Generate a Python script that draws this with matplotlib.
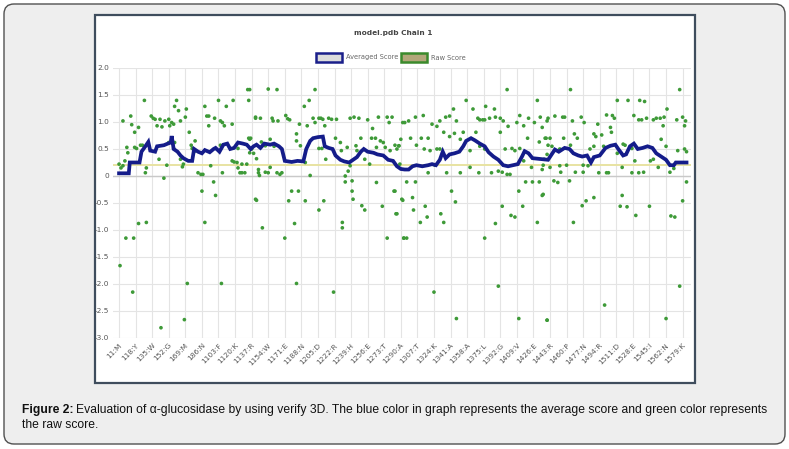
import matplotlib
matplotlib.use('Agg')
import matplotlib.pyplot as plt
from matplotlib.patches import FancyBboxPatch, Rectangle

# ---------------- data ----------------
tick_residues = [1, 18, 35, 52, 69, 86, 103, 120, 137, 154, 171, 188, 205, 222, 239,
                 256, 273, 290, 307, 324, 341, 358, 375, 392, 409, 426, 443, 460, 477,
                 494, 511, 528, 545, 562, 579]
tick_labels = ['11:M', '118:Y', '135:W', '152:G', '169:M', '186:N', '1103:F', '1120:K',
               '1137:R', '1154:W', '1171:E', '1188:N', '1205:D', '1222:R', '1239:H',
               '1256:E', '1273:T', '1290:A', '1307:T', '1324:K', '1341:A', '1358:A',
               '1375:L', '1392:G', '1409:V', '1426:E', '1443:R', '1460:P', '1477:N',
               '1494:R', '1511:D', '1528:E', '1545:I', '1562:N', '1579:K']
y_ticks = [-3.0, -2.5, -2.0, -1.5, -1.0, -0.5, 0.0, 0.5, 1.0, 1.5, 2.0]
y_tick_labels = ['-3.0', '-2.5', '-2.0', '-1.5', '-1.0', '-0.5', '0', '0.5', '1.0', '1.5', '2.0']

avg_res = [1, 11, 12, 22, 24, 28, 31, 33, 38, 40, 47, 51, 54, 55, 57, 61, 64, 67, 72, 76,
           78, 82, 86, 89, 94, 98, 100, 104, 108, 112, 115, 119, 123, 128, 132, 136, 139,
           142, 146, 150, 156, 160, 165, 168, 171, 178, 184, 190, 193, 197, 200, 205, 210,
           212, 216, 220, 223, 228, 232, 237, 241, 245, 249, 252, 256, 262, 266, 272, 277,
           282, 286, 290, 294, 298, 302, 306, 312, 318, 322, 326, 330, 333, 336, 340, 345,
           350, 354, 357, 362, 366, 371, 376, 380, 385, 390, 395, 400, 405, 410, 414, 417,
           421, 425, 430, 436, 441, 448, 452, 458, 463, 467, 472, 476, 481, 485, 488, 494,
           500, 505, 510, 513, 518, 521, 525, 529, 533, 538, 543, 548, 552, 557, 562, 566,
           570, 572, 583]
avg_val = [0.05, 0.05, 0.25, 0.25, 0.45, 0.55, 0.63, 0.47, 0.45, 0.55, 0.57, 0.60, 0.62,
           0.74, 0.50, 0.45, 0.38, 0.33, 0.28, 0.28, 0.50, 0.45, 0.42, 0.48, 0.44, 0.50,
           0.52, 0.45, 0.58, 0.60, 0.50, 0.52, 0.62, 0.60, 0.58, 0.50, 0.55, 0.58, 0.52,
           0.60, 0.58, 0.60, 0.55, 0.50, 0.28, 0.26, 0.28, 0.27, 0.50, 0.65, 0.70, 0.72,
           0.73, 0.55, 0.52, 0.50, 0.38, 0.30, 0.27, 0.25, 0.30, 0.35, 0.45, 0.50, 0.45,
           0.43, 0.40, 0.38, 0.30, 0.28, 0.18, 0.13, 0.12, 0.12, 0.18, 0.20, 0.18, 0.20,
           0.22, 0.20, 0.30, 0.45, 0.33, 0.40, 0.42, 0.45, 0.55, 0.65, 0.70, 0.66, 0.60,
           0.55, 0.44, 0.36, 0.30, 0.20, 0.18, 0.20, 0.22, 0.35, 0.46, 0.42, 0.33, 0.32,
           0.31, 0.30, 0.49, 0.45, 0.52, 0.50, 0.42, 0.38, 0.36, 0.38, 0.25, 0.35, 0.38,
           0.52, 0.56, 0.58, 0.50, 0.38, 0.40, 0.55, 0.60, 0.50, 0.52, 0.55, 0.52, 0.42,
           0.36, 0.30, 0.20, 0.20, 0.25, 0.25]

raw_res = [1, 3, 5, 2, 8, 16, 15, 5, 9, 10, 7, 13, 14, 17, 17, 21, 21, 23, 19, 27, 29, 28,
           29, 25, 34, 36, 38, 40, 43, 45, 42, 47, 44, 48, 52, 53, 55, 57, 52, 50, 57, 58,
           60, 58, 62, 64, 64, 66, 67, 68, 71, 70, 69, 73, 75, 76, 79, 78, 82, 85, 87, 86,
           89, 91, 93, 89, 93, 95, 98, 100, 99, 103, 106, 105, 107, 109, 105, 107, 111, 117,
           118, 117, 119, 122, 123, 123, 125, 127, 127, 130, 132, 133, 135, 134, 134, 136,
           137, 139, 141, 141, 144,
           154, 163, 202, 196, 191, 141, 146, 158, 159, 164, 172, 174, 176, 186, 194, 200,
           202, 206, 208, 210, 212, 216, 219, 224, 238, 242, 247, 256, 261, 267, 276, 278,
           281, 292, 135, 135, 147, 151, 156, 160, 142, 144, 145, 151, 156, 154, 163, 166,
           168, 183, 183, 187, 192, 197, 206, 209, 213, 223, 228, 229, 235, 236, 238, 233,
           233, 240, 244, 245, 249, 253, 258, 260, 264, 265, 269, 272, 274, 265, 279, 284,
           288, 286, 289, 178, 185, 175, 192, 211, 206, 142, 148, 181, 171, 183, 221, 230,
           230, 240, 241, 250, 253, 271, 283, 285, 276, 293, 292,
           399, 357, 430, 344, 364, 377, 386, 294, 298, 305, 313, 322, 327, 330, 336, 340,
           347, 369, 371, 374, 376, 381, 387, 392, 395, 400, 412, 409, 416, 421, 427, 433,
           435, 440, 290, 288, 300, 306, 311, 318, 314, 320, 327, 330, 334, 340, 345, 354,
           367, 351, 361, 371, 376, 392, 397, 404, 407, 412, 417, 420, 432, 439, 441, 437,
           318, 337, 351, 361, 370, 383, 390, 394, 399, 402, 424, 435, 416, 325, 296, 305,
           284, 291, 302, 315, 286, 303, 317, 310, 331, 334, 342, 346, 387, 394, 403, 407,
           411, 418, 425, 432, 415, 435, 430, 293, 296, 376, 324, 390, 347, 411, 440,
           464, 576, 512, 523, 535, 540, 563, 448, 456, 458, 441, 466, 475, 478, 492, 501,
           507, 509, 505, 506, 529, 534, 537, 542, 549, 552, 556, 560, 559, 573, 579, 581,
           582, 438, 443, 445, 457, 468, 471, 464, 453, 484, 488, 488, 490, 496, 498, 512,
           518, 520, 527, 530, 546, 549, 557, 562, 574, 581, 583, 440, 436, 443, 453, 460,
           477, 482, 493, 501, 503, 469, 477, 454, 517, 527, 534, 539, 554, 566, 570, 447,
           451, 463, 583, 436, 476, 480, 488, 517, 515, 522, 531, 545, 567, 571, 579, 467,
           576, 499, 440, 562]
raw_val = [0.22, 0.15, 0.19, -1.66, -1.15, -1.15, -2.15, 1.02, 0.53, 0.43, 0.28, 1.11,
           0.95, 0.81, 0.53, -0.88, 0.90, 0.57, 0.51, 1.40, -0.86, 0.06, 0.15, 0.57, 1.11,
           1.07, 1.05, 0.93, 1.05, 0.91, 0.31, -0.04, -2.81, 1.02, 1.05, 0.93, 0.99, 0.96,
           0.62, 0.20, 0.51, 0.62, 1.40, 1.29, 1.21, 1.02, 0.31, 0.17, 0.22, -2.66, -1.99,
           1.24, 1.09, 0.81, 0.57, 0.51, 0.65, 0.45, 0.06, 0.03, 0.03, -0.28, 1.29, 1.11,
           1.11, -0.86, 0.93, 0.19, -0.11, -0.36, 1.07, 1.40, -1.99, 1.02, 0.99, 0.93, 0.57,
           0.06, 1.29, 0.28, 1.40, 0.96, 0.26, 0.25, 0.15, 0.51, 0.06, 0.06, 0.22, 0.06,
           0.22, 1.60, 1.60, 1.40, 0.70, 0.70, 0.50, 0.42, 1.07, -0.43, 0.06,
           1.61, 1.60, 1.60, 1.40, 1.29, 1.09, 1.07, 1.07, 1.02, 1.02, 1.12, 1.06, 1.04,
           0.96, 0.93, 1.07, 0.99, 1.07, 1.07, 1.05, 0.93, 1.07, 1.05, 1.05, 1.07, 1.09,
           1.07, 1.04, 0.88, 1.09, 1.09, 0.99, 1.09, 0.99, 0.68, 0.43, 0.63, 0.56, 0.68,
           0.55, 0.32, 0.12, 0.01, 0.07, 0.16, 0.06, 0.06, 0.03, 0.06, 0.78, 0.65, 0.56,
           0.25, 0.01, 0.51, 0.51, 0.31, 0.70, 0.62, 0.47, 0.53, 0.09, 0.19, 0.00, -0.11,
           -0.09, 0.56, 0.47, 0.70, 0.31, 0.22, 0.70, 0.70, 0.53, 0.65, 0.62, 0.53, -0.12,
           0.47, 0.57, 0.56, 0.50, 0.22, -0.28, -0.28, -0.46, -0.46, -0.46, -0.63, -0.45,
           -0.96, -0.88, -1.15, -1.99, -2.15, -0.86, -0.96, -0.28, -0.43, -0.55, -0.63,
           -0.56, -0.28, -0.70, -1.15, -1.15, -0.45,
           1.60, 1.40, 1.40, 1.24, 1.24, 1.29, 1.24, 0.99, 1.02, 1.09, 1.12, 0.96, 0.92,
           1.02, 1.09, 1.11, 1.02, 1.07, 1.04, 1.04, 1.04, 1.07, 1.09, 1.07, 1.02, 0.92,
           1.12, 0.99, 0.93, 1.07, 0.99, 1.09, 0.90, 1.02, 0.68, 0.56, 0.70, 0.57, 0.70,
           0.70, 0.50, 0.47, 0.50, 0.50, 0.81, 0.73, 0.79, 0.81, 0.81, 0.68, 0.47, 0.55,
           0.50, 0.81, 0.50, 0.51, 0.47, 0.51, 0.45, 0.70, 0.63, 0.70, 0.57, 0.31, 0.06,
           0.06, 0.06, 0.16, 0.06, 0.06, 0.09, 0.07, 0.03, 0.03, 0.16, 0.12, 0.28, 0.20,
           -0.11, -0.11, -0.28, -0.43, -0.40, -0.56, -0.70, -0.63, -0.76, -0.86, -0.70,
           -0.86, -0.28, -0.48, -0.88, -0.56, -0.73, -0.76, -0.28, -0.11, -0.11, -0.11,
           -0.56, -0.36, -0.86, -1.15, -1.15, -1.15, -2.15, -2.04, -2.64, -2.64, -2.67,
           1.60, 1.60, 1.40, 1.40, 1.40, 1.38, 1.24, 1.11, 1.09, 1.09, 1.07, 1.02, 1.09,
           0.99, 0.96, 1.13, 1.12, 1.07, 0.90, 0.81, 1.12, 1.04, 1.04, 1.07, 1.04, 1.07,
           1.07, 1.09, 0.93, 1.04, 1.09, 0.93, 1.02, 0.70, 0.70, 0.55, 0.70, 0.78, 0.70,
           0.57, 0.50, 0.50, 0.55, 0.78, 0.73, 0.76, 0.55, 0.42, 0.59, 0.57, 0.51, 0.28,
           0.28, 0.31, 0.68, 0.55, 0.47, 0.50, 0.45, 0.40, 0.20, 0.16, 0.19, 0.20, 0.20,
           0.19, 0.06, 0.06, 0.06, 0.07, 0.07, 0.07, 0.16, 0.06, 0.06, 0.07, 0.16, 0.07,
           0.14, -0.09, -0.12, -0.09, -0.11, -0.34, -0.55, -0.46, -0.40, -0.36, -0.56,
           -0.57, -0.73, -0.56, -0.74, -0.76, -0.46, -0.86, -2.04, -2.39, -2.67, -2.64]

# ---------------- figure ----------------
W, H = 789, 449
fig = plt.figure(figsize=(W / 100, H / 100), dpi=100)
fig.patch.set_facecolor('white')
inch = fig.dpi_scale_trans


def px_box(x0, y0, x1, y1):
    # pixel box (top-left origin) -> inches (bottom-left origin)
    return x0 / 100, (H - y1) / 100, (x1 - x0) / 100, (y1 - y0) / 100


bx, by, bw, bh = px_box(4, 4, 785, 444)
fig.add_artist(FancyBboxPatch((bx, by), bw, bh, boxstyle='round,pad=0,rounding_size=0.1',
                              transform=inch, fc='#eeeeee', ec='#505050', lw=1.0,
                              zorder=-3))
bx, by, bw, bh = px_box(95, 15, 695, 383)
fig.add_artist(Rectangle((bx, by), bw, bh, transform=inch, fc='white', ec='#3f4d5d',
                         lw=1.6, zorder=-2))

ax = fig.add_axes([113 / W, 1 - 338 / H, 578 / W, 270 / H])
ax.set_zorder(2)
ax.set_facecolor('none')
for s in ax.spines.values():
    s.set_visible(False)
ax.set_xlim(-5.2, 587.6)
ax.set_ylim(-3.0, 2.0)
ax.set_xticks(tick_residues)
ax.set_xticklabels(tick_labels, rotation=45, ha='right', va='top', rotation_mode='anchor')
ax.set_yticks(y_ticks)
ax.set_yticklabels(y_tick_labels)
ax.tick_params(length=0, labelsize=5.3, colors='#555555', pad=3)
ax.grid(True, color='#e4e4e4', lw=0.8, zorder=0)
ax.set_axisbelow(True)
ax.axhline(0, color='#c9c9c9', lw=1.0, zorder=1)
ax.axhline(0.2, color='#e8e3a2', lw=1.4, zorder=1)

ax.scatter(raw_res, raw_val, s=7, c='#3e9a38', edgecolors='none', zorder=3)
ax.plot(avg_res, avg_val, color='#141c8a', lw=2.7, zorder=4, solid_joinstyle='miter')

# title and legend
fig.text(393 / W, 1 - 33 / H, 'model.pdb Chain 1', ha='center', va='center',
         fontsize=5.3, fontweight='bold', color='#444444', zorder=5)
bx, by, bw, bh = px_box(316, 53, 342, 62)
fig.add_artist(Rectangle((bx, by), bw, bh, transform=inch, fc='#dcdcdc', ec='#1a1f8a',
                         lw=1.8, zorder=5))
fig.text(346 / W, 1 - 57.5 / H, 'Averaged Score', ha='left', va='center', fontsize=4.8,
         color='#666666', zorder=5)
bx, by, bw, bh = px_box(401, 53, 427, 62)
fig.add_artist(Rectangle((bx, by), bw, bh, transform=inch, fc='#b3a77a', ec='#3b8a2c',
                         lw=1.8, zorder=5))
fig.text(431 / W, 1 - 57.5 / H, 'Raw Score', ha='left', va='center', fontsize=4.8,
         color='#666666', zorder=5)

# caption
fam = ['Liberation Sans Narrow', 'Liberation Sans', 'DejaVu Sans']
fs = 8.7
fig.canvas.draw()
r = fig.canvas.get_renderer()
t1 = fig.text(22 / W, 1 - 410 / H, 'Figure 2:', ha='left', va='center', fontsize=fs,
              fontweight='bold', family=fam, color='#111111')
bb = t1.get_window_extent(renderer=r)
fig.text((bb.x1 + 3) / W, 1 - 410 / H,
         'Evaluation of \u03b1-glucosidase by using verify 3D. The blue color in graph '
         'represents the average score and green color represents',
         ha='left', va='center', fontsize=fs, family=fam, color='#111111')
fig.text(22 / W, 1 - 425 / H, 'the raw score.', ha='left', va='center', fontsize=fs,
         family=fam, color='#111111')

fig.savefig('out.png', dpi=100)
